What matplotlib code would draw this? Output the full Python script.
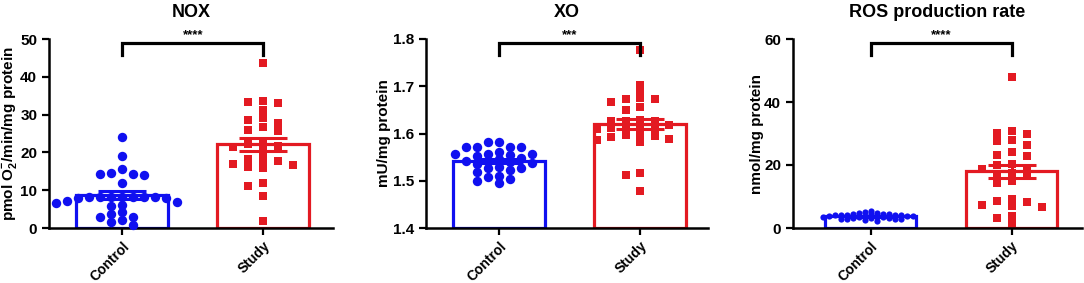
import numpy as np
import matplotlib
matplotlib.use("Agg")
import matplotlib.pyplot as plt

plt.rcParams['font.family'] = ['Liberation Sans', 'DejaVu Sans']
plt.rcParams['font.weight'] = 'bold'
plt.rcParams['mathtext.fontset'] = 'custom'
plt.rcParams['mathtext.rm'] = 'Liberation Sans:bold'
plt.rcParams['mathtext.bf'] = 'Liberation Sans:bold'

groups = ['Control', 'Study']

# NOX, pmol O2-/min/mg protein
nox_control = [24, 19, 15.7, 14.6, 14.2, 14.2, 14.1, 11.8, 8.3, 8.2, 8.2, 8.1, 8.1,
               8.0, 8.0, 8.2, 8.1, 7.2, 7.0, 6.2, 5.8, 6.5, 4.2, 3.6, 3.0, 3.0, 2.0, 1.7, 0.9]
nox_study = [43.6, 33.6, 33.0, 33.4, 31.2, 29.0, 28.6, 26.6, 27.7, 25.9, 25.7, 22.1, 21.5,
             21.7, 22.6, 20.9, 19.3, 16.2, 16.9, 17.7, 15.8, 17.7, 18.2, 16.7, 11.2, 11.8, 8.5, 1.9]

# XO, mU/mg protein
xo_control = [1.571, 1.581, 1.571, 1.571, 1.581, 1.571, 1.561, 1.557, 1.552, 1.557, 1.557,
              1.555, 1.546, 1.548, 1.541, 1.538, 1.542, 1.540, 1.536, 1.518, 1.527, 1.522,
              1.526, 1.530, 1.499, 1.511, 1.504, 1.508, 1.495]
xo_study = [1.777, 1.703, 1.689, 1.672, 1.672, 1.675, 1.666, 1.657, 1.650, 1.629, 1.626,
            1.626, 1.626, 1.617, 1.612, 1.612, 1.612, 1.614, 1.597, 1.609, 1.592, 1.597,
            1.589, 1.583, 1.587, 1.594, 1.516, 1.513, 1.478]

# ROS production rate, nmol/mg protein
ros_control = [3.5, 4.2, 3.0, 2.5, 4.0, 3.8, 3.3, 4.5, 5.0, 4.8, 4.1, 3.6, 2.8, 3.2, 4.4,
               4.6, 5.5, 3.9, 3.4, 2.9, 4.3, 3.7, 3.1, 4.0, 2.2, 3.5, 4.7, 3.0, 3.8, 4.2]
ros_study = [47.9, 29.8, 30.7, 30.2, 26.4, 27.8, 27.7, 24.1, 22.7, 23.3, 20.3, 19.0, 16.4,
             20.1, 17.5, 14.3, 18.8, 15.0, 16.9, 8.5, 9.3, 6.7, 8.3, 7.1, 7.4, 3.7, 3.2, 1.6]

BLUE = '#1010F0'
RED = '#E31A22'
GROUP_PX = 141.0   # pixel distance between the two group centres
AX_H_PX = 189.0


def swarm_offsets(vals, ylim, col_px, size_px):
    """GraphPad-like column scatter: discrete columns, greedy from the centre."""
    vals = np.asarray(vals, float)
    scale = AX_H_PX / (ylim[1] - ylim[0])
    order = np.argsort(-vals)
    placed = {}
    offs = np.zeros(len(vals))
    for i in order:
        y = vals[i] * scale
        k = 0
        step = 0
        while True:
            cols = placed.setdefault(k, [])
            if all(abs(y - yy) >= size_px for yy in cols):
                cols.append(y)
                break
            step += 1
            k = -((step + 1) // 2) if step % 2 else step // 2
        offs[i] = k * col_px / GROUP_PX
    return offs


panels = [
    dict(title='NOX', data=(nox_control, nox_study), ylim=(0, 50), yticks=[0, 10, 20, 30, 40, 50],
         ylabel=r'pmol O$_{2}^{-}$/min/mg protein', stars='****', left=49, width=284, x0=-0.52,
         labx=20, cols=(11, 15), sizes=(46, 34), px=(7.0, 6.0)),
    dict(title='XO', data=(xo_control, xo_study), ylim=(1.4, 1.8), yticks=[1.4, 1.5, 1.6, 1.7, 1.8],
         ylabel='mU/mg protein', stars='***', left=426, width=282, x0=-0.52,
         labx=391, cols=(11, 14.5), sizes=(46, 34), px=(7.0, 6.0)),
    dict(title='ROS production rate', data=(ros_control, ros_study), ylim=(0, 60), yticks=[0, 20, 40, 60],
         ylabel='nmol/mg protein', stars='****', left=793, width=289, x0=-0.55,
         labx=764, cols=(6, 15), sizes=(20, 34), px=(3.5, 6.0)),
]

fig = plt.figure(figsize=(10.84, 2.83), dpi=100)
W, H = 1084.0, 283.0

for p in panels:
    ax = fig.add_axes([p['left'] / W, (H - 228) / H, p['width'] / W, AX_H_PX / H])
    ax.set_xlim(p['x0'], p['x0'] + p['width'] / GROUP_PX)
    ax.set_ylim(*p['ylim'])
    colors = [BLUE, RED]
    markers = ['o', 's']
    for i, vals in enumerate(p['data']):
        vals = np.asarray(vals)
        mean = vals.mean()
        sem = vals.std(ddof=1) / np.sqrt(len(vals))
        ax.bar(i, mean - p['ylim'][0], bottom=p['ylim'][0], width=0.65, color='white',
               edgecolor=colors[i], linewidth=2.3, zorder=2)
        offs = swarm_offsets(vals, p['ylim'], p['cols'][i], p['px'][i])
        ax.scatter(i + offs, vals, s=p['sizes'][i], marker=markers[i], color=colors[i],
                   linewidths=0, zorder=3, clip_on=False)
        ax.errorbar(i, mean, yerr=sem, color=colors[i], elinewidth=2.2, capsize=17,
                    capthick=2.2, zorder=4)
    # significance bracket
    y0, y1 = p['ylim']
    top = y0 + 0.98 * (y1 - y0)
    drop = y0 + 0.915 * (y1 - y0)
    ax.plot([0, 0, 1, 1], [drop, top, top, drop], color='black', lw=2.3,
            clip_on=False, zorder=5, solid_joinstyle='miter')
    ax.text(0.5, 0.99, p['stars'], transform=ax.get_xaxis_transform(), ha='center',
            va='bottom', fontsize=9.5, fontweight='bold')

    ax.set_title(p['title'], fontsize=13, fontweight='bold', pad=16)
    ax.set_ylabel(p['ylabel'], fontsize=11, fontweight='bold')
    ax.yaxis.set_label_coords((p['labx'] - p['left']) / p['width'], 0.5)
    ax.set_yticks(p['yticks'])
    if p['title'] == 'XO':
        ax.set_yticklabels(['%.1f' % t for t in p['yticks']])
    ax.set_xticks([0, 1])
    ax.set_xticklabels(groups, rotation=45, ha='right', rotation_mode='anchor')
    ax.tick_params(width=1.6, length=5, labelsize=11, direction='out')
    ax.tick_params(axis='x', labelsize=10, pad=3)
    for s in ['top', 'right']:
        ax.spines[s].set_visible(False)
    for s in ['left', 'bottom']:
        ax.spines[s].set_linewidth(1.8)
    for lab in ax.get_xticklabels() + ax.get_yticklabels():
        lab.set_fontweight('bold')

fig.savefig('out.png', dpi=100)
